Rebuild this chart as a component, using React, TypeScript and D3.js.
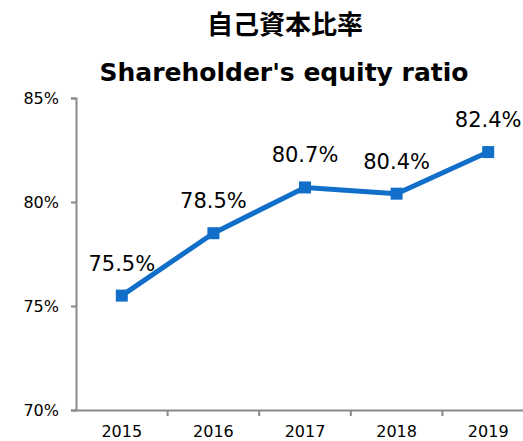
import { useEffect, useRef } from "react";
import * as d3 from "d3";

const years = ["2015", "2016", "2017", "2018", "2019"];
const ratios = [75.5, 78.5, 80.7, 80.4, 82.4];
const yTicks = [70, 75, 80, 85];

export default function App() {
  const svgRef = useRef<SVGSVGElement>(null);

  useEffect(() => {
    document.body.style.margin = "0";
    document.body.style.overflow = "hidden";
    if (!svgRef.current) return;
    const svg = d3.select(svgRef.current);
    svg.selectAll("*").remove();

    const font = "'DejaVu Sans', Verdana, sans-serif";
    const left = 76;
    const right = 534;
    const top = 98;
    const bottom = 410;

    const x = d3.scaleBand().domain(years).range([left, right]);
    const y = d3.scaleLinear().domain([70, 85]).range([bottom, top]);

    svg.append("text")
      .attr("x", 285).attr("y", 34)
      .attr("text-anchor", "middle")
      .attr("font-family", "'Noto Sans CJK JP', sans-serif")
      .attr("font-weight", "bold").attr("font-size", 26)
      .text("自己資本比率");

    svg.append("text")
      .attr("x", 284).attr("y", 81)
      .attr("text-anchor", "middle")
      .attr("font-family", font)
      .attr("font-weight", "bold").attr("font-size", 25)
      .text("Shareholder's equity ratio");

    const yAxis = svg.append("g")
      .attr("transform", `translate(${left},0)`)
      .call(d3.axisLeft(y).tickValues(yTicks).tickSize(5).tickPadding(12).tickFormat((d) => `${d}%`));
    yAxis.select(".domain").attr("stroke", "#898989").attr("stroke-width", 2);
    yAxis.selectAll(".tick line").attr("stroke", "#898989").attr("stroke-width", 2);
    yAxis.selectAll(".tick text").attr("font-family", font).attr("font-size", 16).attr("fill", "#000");

    // year labels sit close to the bottom edge, as in the original
    const xAxis = svg.append("g")
      .attr("transform", `translate(0,${bottom})`)
      .call(d3.axisBottom(x).tickSize(0).tickPadding(21));
    xAxis.select(".domain").attr("stroke", "#898989").attr("stroke-width", 2);
    xAxis.selectAll(".tick text")
      .attr("font-family", font).attr("font-size", 16).attr("fill", "#000")
      .attr("dy", "0.35em");

    const bounds = [...years.map((d) => x(d) || 0), right].slice(1);
    svg.append("g").selectAll("line")
      .data(bounds)
      .join("line")
      .attr("x1", (d) => d).attr("x2", (d) => d)
      .attr("y1", bottom).attr("y2", bottom + 6)
      .attr("stroke", "#898989").attr("stroke-width", 2);

    const cx = (i: number) => (x(years[i]) || 0) + x.bandwidth() / 2;

    const line = d3.line<number>()
      .x((_, i) => cx(i))
      .y((d) => y(d));

    svg.append("path")
      .datum(ratios)
      .attr("d", line)
      .attr("fill", "none")
      .attr("stroke", "#126fc9")
      .attr("stroke-width", 5)
      .attr("stroke-linejoin", "round");

    svg.append("g").selectAll("rect")
      .data(ratios)
      .join("rect")
      .attr("x", (_, i) => cx(i) - 6)
      .attr("y", (d) => y(d) - 6)
      .attr("width", 12).attr("height", 12)
      .attr("fill", "#126fc9");

    svg.append("g").selectAll("text")
      .data(ratios)
      .join("text")
      .attr("x", (_, i) => cx(i))
      .attr("y", (d) => y(d) - 25)
      .attr("text-anchor", "middle")
      .attr("font-family", font)
      .attr("font-size", 21)
      .attr("fill", "#000")
      .text((d) => `${d.toFixed(1)}%`);
  }, []);

  return <svg ref={svgRef} width={523} height={441} style={{ display: "block" }} />;
}
